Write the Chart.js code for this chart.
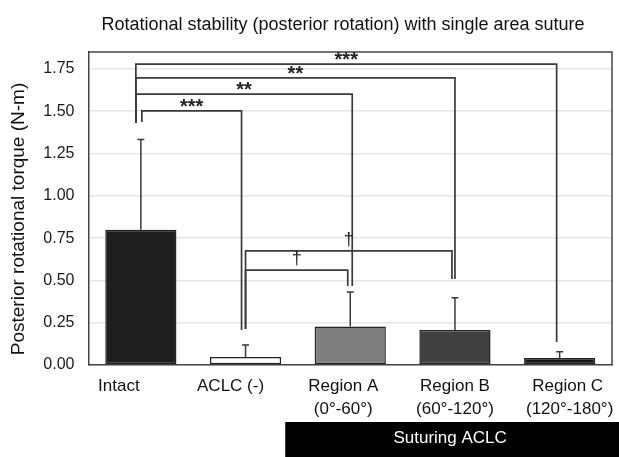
<!DOCTYPE html>
<html>
<head>
<meta charset="utf-8">
<script src="https://cdn.jsdelivr.net/npm/chart.js@4"></script>
<style>
  body { margin: 0; background: #fff; }
  canvas { display: block; }
</style>
</head>
<body>
<canvas id="chart" width="619" height="457"></canvas>
<script>
// data
const categories = ['Intact', 'ACLC (-)', 'Region A', 'Region B', 'Region C'];
const subLabels = ['', '', '(0°-60°)', '(60°-120°)', '(120°-180°)'];
const meanTorque = [0.80, 0.047, 0.228, 0.207, 0.041];
const sdTorque = [0.533, 0.071, 0.203, 0.191, 0.038];
const yTickValues = [0, 0.25, 0.5, 0.75, 1.0, 1.25, 1.5, 1.75];
// significance brackets: categories joined, height of the bar, where each leg stops, mark
const bracketFrom = [0, 0, 0, 0, 1, 1];
const bracketTo = [4, 3, 2, 1, 3, 2];
const bracketLevel = [1.778, 1.697, 1.601, 1.502, 0.675, 0.561];
const bracketFromEnd = [1.431, 1.431, 1.431, 1.437, 0.213, 0.213];
const bracketToEnd = [0.136, 0.508, 0.467, 0.207, 0.508, 0.467];
const bracketMark = ['***', '**', '**', '***', '†', '†'];

// styles
const barColors = ['#1e1e1e', '#ffffff', '#7f7f7f', '#414141', '#151515'];
const legShiftFrom = [-5, -5, -5, 1, 0, 0];   // px, small hand placement in the original
const legShiftTo = [-3, 0, 2, -4, -3, -2.5];
const labelShift = [-22, -15, -7, 0, 8];
const FONT = '"Liberation Sans", Arial, sans-serif';
const INK = '#3a3a3a';

const annotate = {
  id: 'annotate',
  beforeDraw(chart) {
    const c = chart.ctx;
    c.save();
    c.fillStyle = '#fff';
    c.fillRect(0, 0, chart.width, chart.height);
    c.restore();
  },
  afterDatasetsDraw(chart) {
    const c = chart.ctx;
    const xs = chart.scales.x, ys = chart.scales.y, a = chart.chartArea;
    c.save();

    // box around plot
    c.strokeStyle = '#444';
    c.lineWidth = 1.5;
    c.beginPath();
    c.moveTo(a.left, a.top);
    c.lineTo(a.right, a.top);
    c.lineTo(a.right, a.bottom);
    c.stroke();

    // error bars (upper only)
    c.strokeStyle = INK;
    c.lineWidth = 1.5;
    meanTorque.forEach((m, i) => {
      const x = xs.getPixelForValue(i);
      const y0 = ys.getPixelForValue(m);
      const y1 = ys.getPixelForValue(m + sdTorque[i]);
      c.beginPath();
      c.moveTo(x, y0); c.lineTo(x, y1);
      c.moveTo(x - 3.5, y1); c.lineTo(x + 3.5, y1);
      c.stroke();
    });

    // brackets
    c.lineWidth = 1.7;
    c.fillStyle = '#222';
    bracketMark.forEach((mark, k) => {
      const xa = xs.getPixelForValue(bracketFrom[k]) + legShiftFrom[k];
      const xb = xs.getPixelForValue(bracketTo[k]) + legShiftTo[k];
      const yl = ys.getPixelForValue(bracketLevel[k]);
      c.beginPath();
      c.moveTo(xa, ys.getPixelForValue(bracketFromEnd[k]));
      c.lineTo(xa, yl);
      c.lineTo(xb, yl);
      c.lineTo(xb, ys.getPixelForValue(bracketToEnd[k]));
      c.stroke();
      c.font = (mark === '†' ? '18px ' : 'bold 20px ') + FONT;
      c.textAlign = 'center';
      c.textBaseline = 'alphabetic';
      const mt = c.measureText(mark);
      c.fillText(mark, (xa + xb) / 2, yl - 4 - mt.actualBoundingBoxDescent);
    });

    // category labels
    c.fillStyle = '#111';
    c.font = '17px ' + FONT;
    c.textAlign = 'center';
    categories.forEach((lab, i) => {
      const x = xs.getPixelForValue(i) + labelShift[i];
      c.fillText(lab, x, a.bottom + 26);
      if (subLabels[i]) c.fillText(subLabels[i], x + (i === 4 ? 2 : 0), a.bottom + 49);
    });

    // "Suturing ACLC" box under the three sutured regions
    const boxL = xs.getPixelForValue(2) - 65;
    c.fillStyle = '#000';
    c.fillRect(boxL, a.bottom + 57, chart.width - boxL, chart.height - a.bottom - 57);
    c.fillStyle = '#fff';
    c.textBaseline = 'middle';
    c.fillText('Suturing ACLC', (boxL + chart.width) / 2 - 2, a.bottom + 73);

    // title and y axis title
    c.fillStyle = '#111';
    c.font = '18px ' + FONT;
    c.fillText('Rotational stability (posterior rotation) with single area suture', 343, 25);
    c.translate(19, 219);
    c.rotate(-Math.PI / 2);
    c.font = '19px ' + FONT;
    c.fillText('Posterior rotational torque (N-m)', 0, 0);
    c.restore();
  }
};

new Chart(document.getElementById('chart'), {
  type: 'bar',
  plugins: [annotate],
  data: {
    labels: categories,
    datasets: [{
      data: meanTorque,
      backgroundColor: barColors,
      borderColor: '#222',
      borderWidth: 1.5,
      borderSkipped: false,
      categoryPercentage: 1,
      barPercentage: 0.68
    }]
  },
  options: {
    responsive: false,
    animation: false,
    layout: { padding: { top: 52, right: 7, bottom: 0, left: 0 } },
    plugins: { legend: { display: false }, tooltip: { enabled: false } },
    scales: {
      x: {
        grid: { display: false },
        border: { color: '#444', width: 1.5 },
        ticks: { display: false },
        afterFit: s => { s.height = 92; }
      },
      y: {
        min: 0,
        max: 1.85,
        afterFit: s => { s.width = 88.5; },
        afterBuildTicks: s => { s.ticks = yTickValues.map(v => ({ value: v })); },
        grid: { color: '#e6e6e6', lineWidth: 1.5, drawTicks: false },
        border: { color: '#444', width: 1.5 },
        ticks: {
          padding: 14,
          color: '#1a1a1a',
          font: { family: FONT, size: 16 },
          callback: v => v.toFixed(2)
        }
      }
    }
  }
});
</script>
</body>
</html>
